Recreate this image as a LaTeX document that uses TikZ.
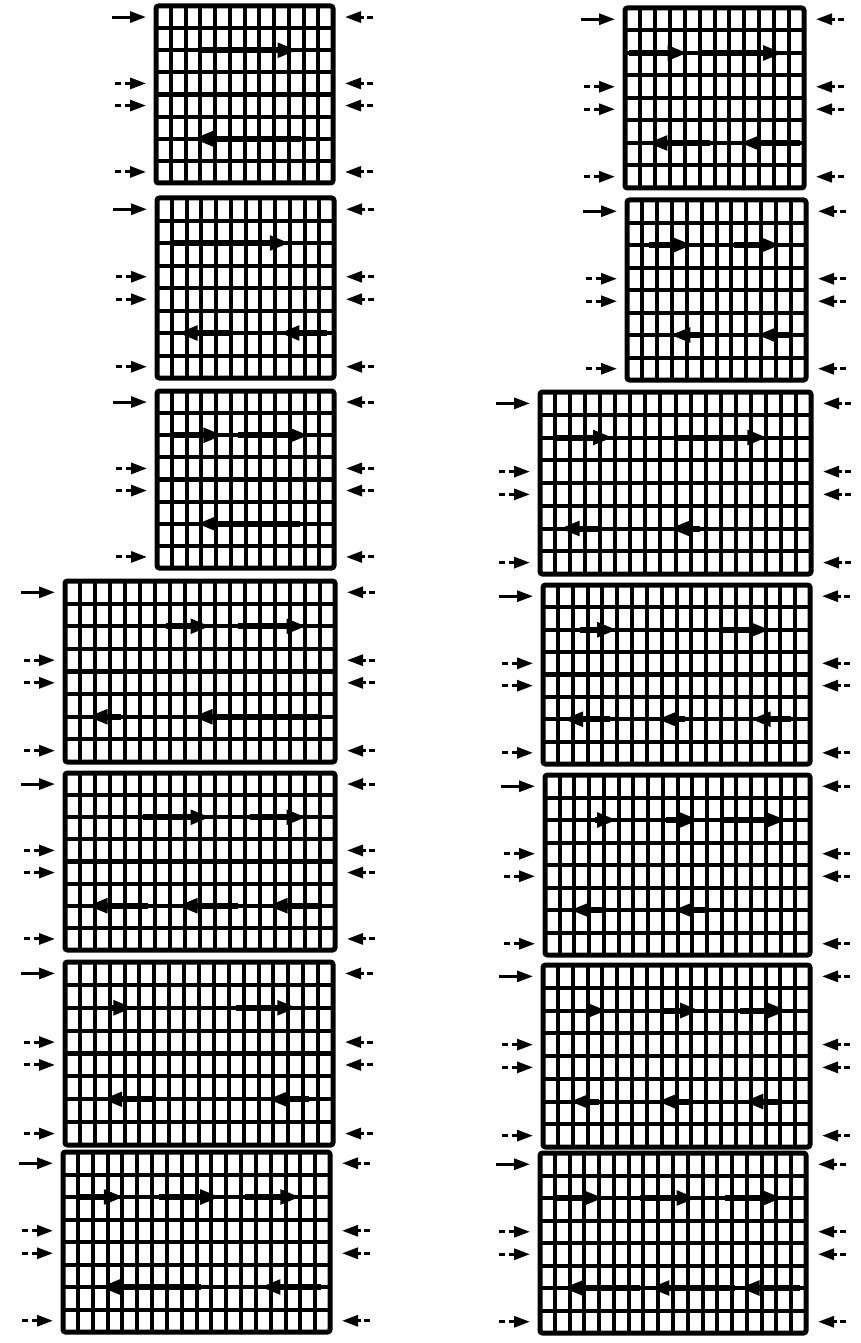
\documentclass[tikz,border=0pt]{standalone}
\usetikzlibrary{arrows.meta}
\tikzset{
  gridline/.style={line width=4pt, black},
  midline/.style={line width=4.6pt, black},
  panelborder/.style={line width=5pt, rounded corners=2.5pt},
  inarrow/.style={line width=6pt, -{Triangle[length=20pt,width=14pt]}},
  extarrow/.style={line width=3pt, -{Triangle[length=16pt,width=11pt]}},
  extdash/.style={line width=3pt},
}
% #1 x0, #2 y0, #3 x1, #4 y1, #5 columns, #6 internal arrows
\newcommand\gpanel[6]{%
  \pgfmathsetmacro\pw{(#3-#1)/#5}%
  \pgfmathsetmacro\ph{(#4-#2)/8}%
  \pgfmathtruncatemacro\ncm{#5-1}%
  \begin{scope}[shift={(#1pt,-#2pt)}, x=\pw pt, y=-\ph pt]
    \foreach \i in {1,...,\ncm} \draw[gridline] (\i,0) -- (\i,8);
    \foreach \j in {1,2,3,5,6,7} \draw[gridline] (0,\j) -- (#5,\j);
    \draw[midline] (0,4) -- (#5,4);
    \draw[panelborder] (0,0) rectangle (#5,8);
    \draw[extarrow] ([xshift=-44pt]0,0.5) -- ([xshift=-10pt]0,0.5);
    \foreach \r in {3.5,4.5,7.5} {
      \draw[extdash] ([xshift=-41pt]0,\r) -- ([xshift=-35pt]0,\r);
      \draw[extarrow] ([xshift=-31pt]0,\r) -- ([xshift=-10pt]0,\r);
    }
    \foreach \r in {0.5,3.5,4.5,7.5} {
      \draw[extarrow] ([xshift=31pt]#5,\r) -- ([xshift=12pt]#5,\r);
      \draw[extdash] ([xshift=34pt]#5,\r) -- ([xshift=40pt]#5,\r);
    }
    #6
  \end{scope}}
\newcommand\rar[2]{\draw[inarrow] (#1,2) -- (#2,2);}
\newcommand\lar[2]{\draw[inarrow] (#1,6) -- (#2,6);}
\begin{document}
\begin{tikzpicture}[x=1pt,y=-1pt]
\useasboundingbox[fill=white] (0,0) rectangle (861,1343);
% left column
\gpanel{156}{6}{333}{183}{12}{\rar{3}{9.6}\lar{9.8}{2.5}}
\gpanel{157}{198}{334}{378}{12}{\rar{1.1}{9.0}\lar{4.9}{1.4}\lar{11.5}{8.3}}
\gpanel{157}{391}{334}{568}{12}{\rar{1}{4.5}\rar{5.5}{10.3}\lar{9.7}{2.7}}
\gpanel{65}{581}{335}{762}{18}{\rar{6.7}{9.7}\rar{11.5}{16.1}\lar{3.7}{1.5}\lar{17}{8.5}}
\gpanel{65}{773}{335}{950}{18}{\rar{5.2}{9.7}\rar{12.3}{16.1}\lar{5.5}{1.5}\lar{11.5}{7.5}\lar{17}{13.5}}
\gpanel{65}{962}{333}{1145}{18}{\rar{3}{4.6}\rar{11.5}{15.6}\lar{6}{2.5}\lar{16.4}{13.6}}
\gpanel{63}{1152}{330}{1332}{18}{\rar{1}{4.1}\rar{6.5}{10.6}\rar{12.3}{16}\lar{9.3}{2.5}\lar{17.4}{13.3}}
% right column
\gpanel{625}{8}{804}{188}{12}{\rar{0.3}{4.2}\rar{5}{10.6}\lar{5.7}{1.5}\lar{11.7}{7.7}}
\gpanel{627}{200}{806}{380}{12}{\rar{1.5}{4.4}\rar{7.2}{10.3}\lar{5}{2.9}\lar{11}{8.7}}
\gpanel{540}{392}{811}{574}{18}{\rar{0.9}{4.85}\rar{9.1}{15.1}\lar{4}{1.3}\lar{10.6}{8.6}}
\gpanel{543}{585}{810}{764}{18}{\rar{2.5}{5}\rar{11.9}{15.3}\lar{4.5}{1.35}\lar{9.6}{7.7}\lar{16.7}{14}}
\gpanel{545}{775}{810}{955}{18}{\rar{3.4}{4.9}\rar{8.2}{10.5}\rar{11.9}{16.4}\lar{4.1}{1.7}\lar{10.9}{8.7}}
\gpanel{543}{965}{810}{1147}{18}{\rar{3.2}{4.3}\rar{7.9}{10.6}\rar{13.3}{16.5}\lar{3.8}{1.8}\lar{9.9}{7.7}\lar{16}{13.5}}
\gpanel{540}{1153}{806}{1333}{18}{\rar{1.1}{4.3}\rar{6.8}{10.6}\rar{12.5}{16.4}\lar{6.8}{1.55}\lar{13.2}{7.4}\lar{17.6}{13.5}}
\end{tikzpicture}
\end{document}
